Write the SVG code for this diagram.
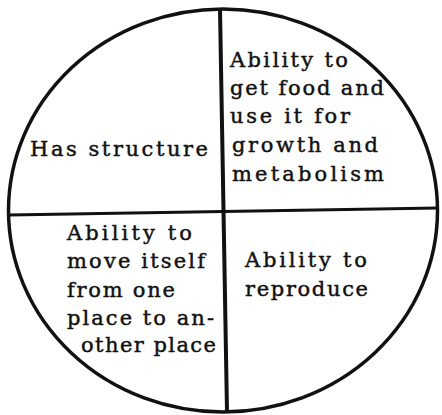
<svg xmlns="http://www.w3.org/2000/svg" width="442" height="415" viewBox="0 0 442 415">
<style>
.t{font-family:"DejaVu Serif","Liberation Serif",serif;font-size:21px;fill:#111;stroke:#111;stroke-width:0.45px;}
.ln{stroke:#111;fill:none;stroke-linecap:butt;}
</style>
<rect width="442" height="415" fill="#fff"/>
<g id="connectors">
<ellipse class="ln" cx="223" cy="210.5" rx="214.5" ry="201.5" stroke-width="3.5"/>
<line class="ln" x1="220" y1="9" x2="227" y2="412" stroke-width="4"/>
<line class="ln" x1="9" y1="215" x2="438" y2="208" stroke-width="3"/>
</g>
<g id="structure">
<text class="t" x="30" y="156" textLength="178" lengthAdjust="spacing">Has structure</text>
</g>
<g id="food">
<text class="t" x="230" y="67" textLength="118" lengthAdjust="spacing">Ability to</text>
<text class="t" x="230" y="95" textLength="154" lengthAdjust="spacing">get food and</text>
<text class="t" x="230" y="123" textLength="120" lengthAdjust="spacing">use it for</text>
<text class="t" x="232" y="152" textLength="146" lengthAdjust="spacing">growth and</text>
<text class="t" x="232" y="181" textLength="152" lengthAdjust="spacing">metabolism</text>
</g>
<g id="move">
<text class="t" x="67" y="240" textLength="125" lengthAdjust="spacing">Ability to</text>
<text class="t" x="67" y="268" textLength="138" lengthAdjust="spacing">move itself</text>
<text class="t" x="67" y="297" textLength="108" lengthAdjust="spacing">from one</text>
<text class="t" x="67" y="325" textLength="147" lengthAdjust="spacing">place to an-</text>
<text class="t" x="81" y="352" textLength="135" lengthAdjust="spacing">other place</text>
</g>
<g id="reproduce">
<text class="t" x="245" y="267" textLength="122" lengthAdjust="spacing">Ability to</text>
<text class="t" x="245" y="296" textLength="123" lengthAdjust="spacing">reproduce</text>
</g>
</svg>
